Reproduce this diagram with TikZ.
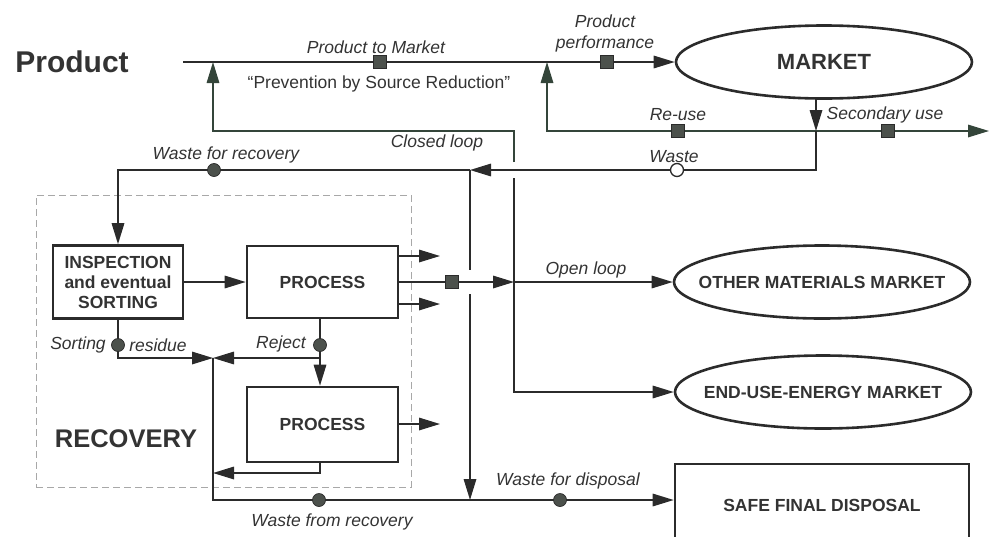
\documentclass[tikz,border=0pt]{standalone}
\usepackage{fontspec}
\setmainfont{Liberation Sans}
\usetikzlibrary{arrows.meta,shapes.geometric}

\definecolor{ink}{HTML}{2B2B2B}
\definecolor{txt}{HTML}{333333}
\definecolor{loopink}{HTML}{34453A}
\definecolor{dashgray}{HTML}{A8A8A8}
\definecolor{markfill}{HTML}{4C514C}

\begin{document}
\begin{tikzpicture}[x=1pt,y=-1pt,
  flow/.style={draw=ink, line width=1.6pt},
  arr/.style={flow, -{Triangle[length=21pt,width=12.5pt]}},
  loopline/.style={draw=loopink},
  lbl/.style={font=\fontsize{17.5}{21}\selectfont\itshape, text=txt, inner sep=0pt, align=center},
  plain/.style={font=\fontsize{17.5}{21}\selectfont, text=txt, inner sep=0pt},
  box/.style={draw=ink, line width=2.6pt, fill=white, inner sep=0pt, align=center,
    font=\fontsize{17.5}{20}\selectfont\bfseries, text=txt},
  mkt/.style={ellipse, draw=ink, line width=2.6pt, fill=white, inner sep=0pt,
    minimum width=296pt, minimum height=73pt},
  mktlbl/.style={font=\fontsize{17.5}{21}\selectfont\bfseries, text=txt, inner sep=0pt},
  sqmark/.style={rectangle, draw=ink, line width=0.7pt, fill=markfill, minimum size=13pt, inner sep=0pt},
  dotmark/.style={circle, draw=ink, line width=0.7pt, fill=markfill, minimum size=13pt, inner sep=0pt},
  opendot/.style={circle, draw=ink, line width=1.3pt, fill=white, minimum size=13pt, inner sep=0pt},
  area/.style={draw=dashgray, line width=1pt, dash pattern=on 7pt off 4pt, inner sep=0pt}]

\useasboundingbox (0,0) rectangle (990,536);
\clip (0,0) rectangle (990,536);

% ---- recovery area and its boxes
\node[area, minimum width=375pt, minimum height=292pt] (recarea) at (223.5,341) {};
\node[font=\fontsize{25.5}{30}\selectfont\bfseries, text=txt, inner sep=0pt] (recovery) at (126,439) {RECOVERY};
\node[box, minimum width=130pt, minimum height=73pt] (inspect) at (118,282) {INSPECTION\\and eventual\\SORTING};
\node[box, minimum width=151pt, minimum height=72pt] (proc1) at (322.5,282) {PROCESS};
\node[box, minimum width=151pt, minimum height=75pt] (proc2) at (322.5,424.5) {PROCESS};

% ---- markets and disposal
\node[font=\fontsize{30}{36}\selectfont\bfseries, text=txt, inner sep=0pt] (product) at (72,62) {Product};
\node[mkt, label={[mktlbl, font=\fontsize{22}{26}\selectfont\bfseries]center:MARKET}] (market) at (824,62) {};
\node[mkt, label={[mktlbl]center:OTHER MATERIALS MARKET}] (other) at (822,282) {};
\node[mkt, label={[mktlbl]center:END-USE-ENERGY MARKET}] (energy) at (823,392) {};
\node[box, minimum width=294pt, minimum height=82pt] (disposal) at (822,505) {SAFE FINAL DISPOSAL};

% ---- junctions and bends
\coordinate (pstart) at (183,62);
\coordinate (clTop) at (213,62);
\coordinate (ruTop) at (547,62);
\coordinate (mktBot) at (816,98);
\coordinate (split) at (816,131);
\coordinate (secEnd) at (989,131);
\coordinate (ruCorner) at (547,131);
\coordinate (wCorner) at (816,170);
\coordinate (jWaste) at (470,170);
\coordinate (clCorner) at (514,131);
\coordinate (clLeft) at (213,131);
\coordinate (hopAtop) at (514,162);
\coordinate (hopAbot) at (514,178);
\coordinate (jOpen) at (514,282);
\coordinate (enCorner) at (514,392);
\coordinate (hopBtop) at (470,270);
\coordinate (hopBbot) at (470,294);
\coordinate (jDisp) at (470,500);
\coordinate (jRes) at (213,358);
\coordinate (rjCorner) at (320,358);
\coordinate (p2End) at (213,473);
\coordinate (wrCorner) at (213,500);
\coordinate (o1) at (440,256);
\coordinate (o2) at (440,304);
\coordinate (o3) at (440,424);

% ---- product flow and loops
\draw[arr] (pstart) -- (market.west);
\draw[arr, loopline] (hopAtop) -- (clCorner) -- (clLeft) -- (clTop);
\draw[arr] (hopAbot) -- (enCorner) -- (energy.west);
\draw[arr] (mktBot) -- (split);
\draw[arr, loopline] (split) -- (ruCorner) -- (ruTop);
\draw[arr, loopline] (split) -- (secEnd);
\draw[arr] (split) -- (wCorner) -- (jWaste);
\draw[arr] (jWaste) -| (inspect.north);
\draw[flow] (jWaste) -- (hopBtop);
\draw[arr] (hopBbot) -- (jDisp);

% ---- recovery flows
\draw[arr] (inspect) -- (proc1);
\draw[arr] (proc1.east) -- (jOpen);
\draw[arr] (jOpen) -- (other.west);
\draw[arr] (proc1.east |- o1) -- (o1);
\draw[arr] (proc1.east |- o2) -- (o2);
\draw[arr] (proc2.east |- o3) -- (o3);
\draw[arr] (inspect.south) |- (jRes);
\draw[arr] (proc1.south -| rjCorner) -- (rjCorner) -- (jRes);
\draw[arr] (rjCorner) -- (proc2.north -| rjCorner);
\draw[arr] (proc2.south -| rjCorner) |- (p2End);
\draw[arr] (jRes) -- (wrCorner) -- (disposal.west |- wrCorner);

% ---- flow markers
\node[sqmark] (mPM) at (380,62) {};
\node[sqmark] (mPP) at (607,62) {};
\node[sqmark] (mRU) at (678,131) {};
\node[sqmark] (mSU) at (888,131) {};
\node[sqmark] (mOL) at (452,282) {};
\node[opendot] (mW) at (677,170) {};
\node[dotmark] (mWR) at (214,170) {};
\node[dotmark] (mSR) at (118,345) {};
\node[dotmark] (mRJ) at (320,345) {};
\node[dotmark] (mWF) at (319,500) {};
\node[dotmark] (mWD) at (560,500) {};

% ---- flow labels
\node[lbl] (tPM) at (376,47) {Product to Market};
\node[plain] (tPSR) at (379,84) {“Prevention by Source Reduction”};
\node[lbl] (tPP) at (605,33) {Product\\performance};
\node[lbl] (tRU) at (678,115) {Re-use};
\node[lbl] (tSU) at (885,115) {Secondary use};
\node[lbl] (tW) at (674,157) {Waste};
\node[lbl] (tCL) at (437,143) {Closed loop};
\node[lbl] (tWR) at (226,155) {Waste for recovery};
\node[lbl] (tOL) at (586,270) {Open loop};
\node[lbl] (tSo) at (78,345) {Sorting};
\node[lbl] (tRe) at (158,345) {residue};
\node[lbl] (tRj) at (281,344) {Reject};
\node[lbl] (tWD) at (568,481) {Waste for disposal};
\node[lbl] (tWF) at (332,522) {Waste from recovery};
\end{tikzpicture}
\end{document}
